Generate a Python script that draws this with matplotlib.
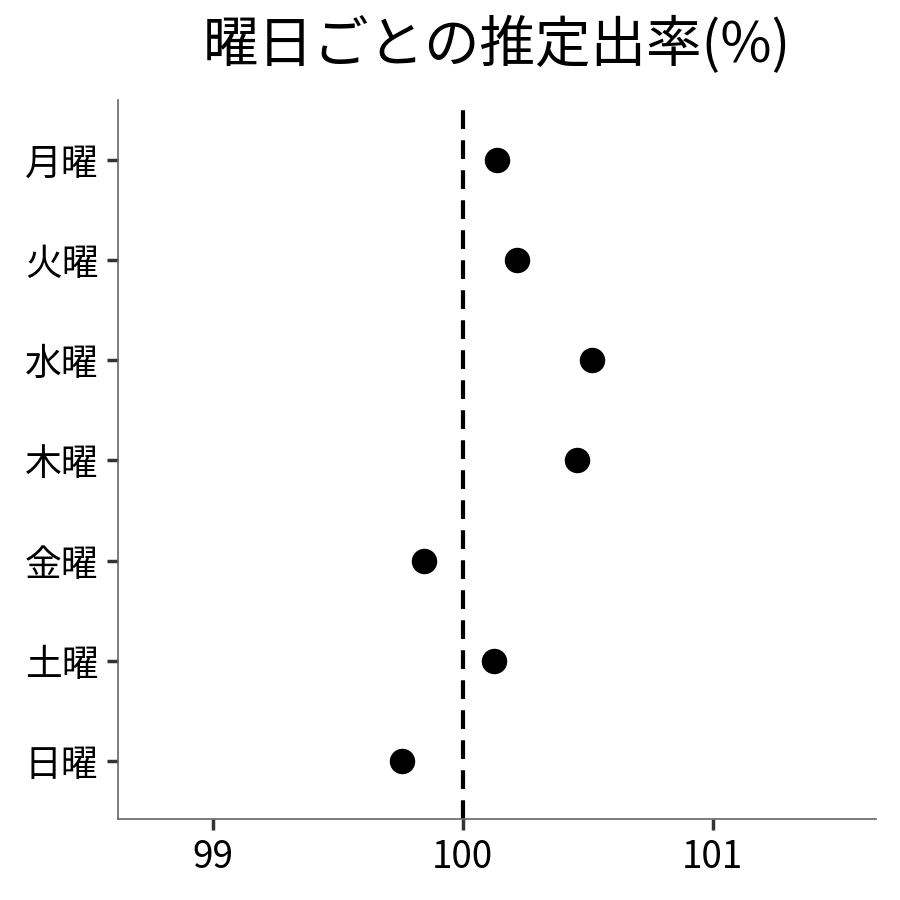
import matplotlib
matplotlib.use("Agg")
import matplotlib.pyplot as plt

plt.rcParams['font.family'] = ['Noto Sans CJK JP', 'DejaVu Sans']

days = ['月曜', '火曜', '水曜', '木曜', '金曜', '土曜', '日曜']
rates = [100.136, 100.216, 100.516, 100.456, 99.844, 100.124, 99.756]
xticks = [99, 100, 101]

fig = plt.figure(figsize=(9, 9), dpi=100)
ax = fig.add_axes([0.131, 0.09, 0.842, 0.799])

ypos = list(range(len(days), 0, -1))
ax.axvline(100, color='black', linestyle=(0, (4.5, 2.7)), linewidth=3, zorder=1)
ax.scatter(rates, ypos, s=300, color='black', zorder=3)

ax.set_xlim(98.62, 101.652)
ax.set_ylim(0.42, 7.6)
ax.set_yticks(ypos)
ax.set_yticklabels(days)
ax.set_xticks(xticks)
ax.set_xticklabels([str(t) for t in xticks])

for s in ['top', 'right']:
    ax.spines[s].set_visible(False)
for s in ['left', 'bottom']:
    ax.spines[s].set_color('#666666')
    ax.spines[s].set_linewidth(1.2)
ax.tick_params(axis='both', colors='#333333', length=8, width=2.5, labelsize=26.5, labelcolor='black', pad=6)

ax.set_title('曜日ごとの推定出率(%)', fontsize=40, pad=27)

fig.savefig('out.png', dpi=100)
